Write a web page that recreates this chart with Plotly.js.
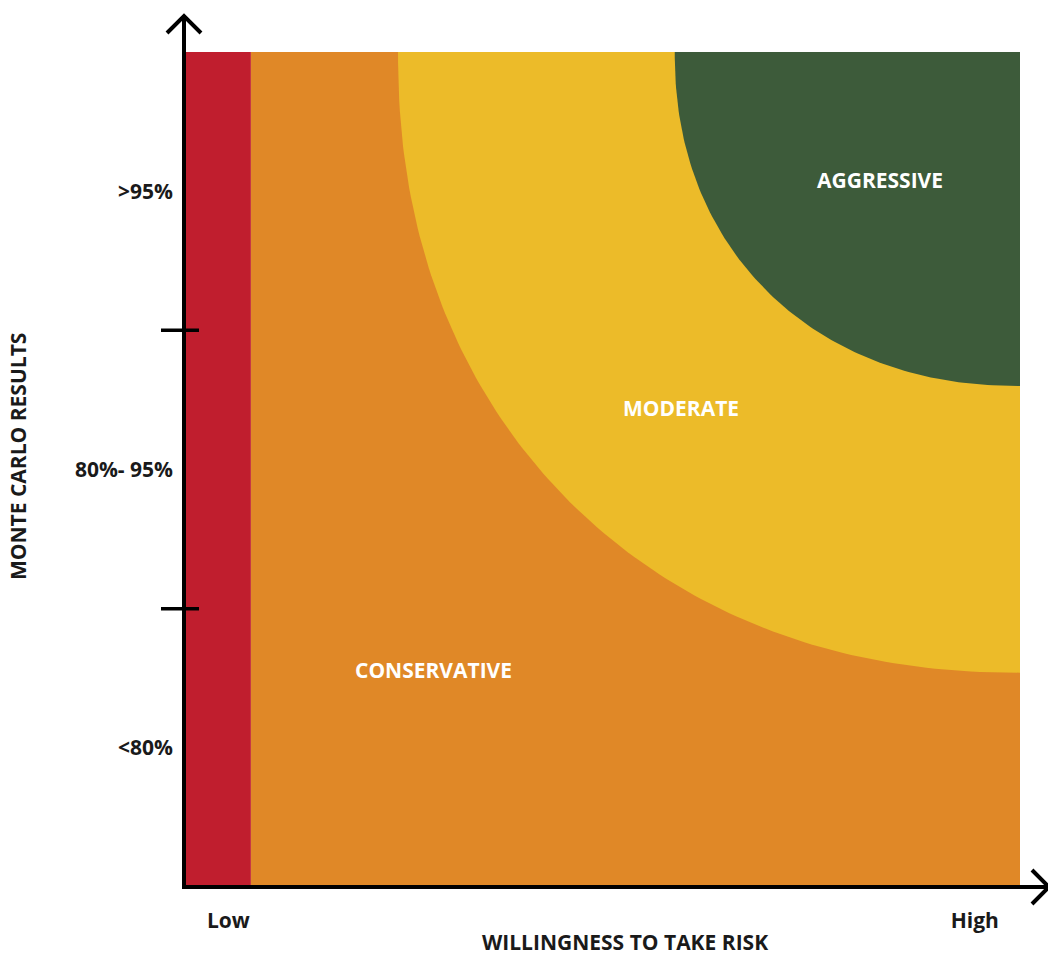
<!DOCTYPE html>
<html>
<head>
<meta charset="utf-8">
<script src="https://cdn.plot.ly/plotly-3.0.1.min.js"></script>
<style>
  html, body { margin: 0; padding: 0; background: #ffffff; }
  #chart { width: 1048px; height: 956px; }
</style>
</head>
<body>
<div id="chart"></div>
<script>
// Risk-profile zones: willingness to take risk (x, 0-100) vs Monte Carlo band (y, 0-3)
const xTickVals = [5.3, 94.6];
const xTickText = ['Low', 'High'];
const yTickVals = [0.5, 1.5, 2.5];
const yTickText = ['<80%', '80%- 95%', '>95%'];
const bandEdges = [1, 2];

const zoneNames = ['Unsuitable', 'Conservative', 'Moderate', 'Aggressive'];
const zoneColors = ['#C01E2E', '#E08827', '#ECBB29', '#3D5B3A'];
const lowRiskLimit = 8;                 // edge of the red strip
const moderateRadiusX = 74.4;           // reach of the moderate zone from the top-right corner
const moderateRadiusY = 2.23;
const aggressiveRadiusX = 41.3;         // reach of the aggressive zone from the top-right corner
const aggressiveRadiusY = 1.20;
const arcExponent = 2.15;

const zoneLabels = ['CONSERVATIVE', 'MODERATE', 'AGGRESSIVE'];
const zoneLabelX = [29.9, 59.4, 83.3];
const zoneLabelY = [0.78, 1.72, 2.54];

const X_MAX = 100, Y_MAX = 3;

// Quarter super-ellipse anchored at the top-right corner of the grid
function cornerZone(rx, ry) {
  const xs = [X_MAX], ys = [Y_MAX];
  const steps = 120;
  for (let i = 0; i <= steps; i++) {
    const t = (Math.PI / 2) * i / steps;
    const c = Math.cos(t), s = Math.sin(t);
    const dx = rx * Math.pow(c, 2 / arcExponent);
    const dy = ry * Math.pow(s, 2 / arcExponent);
    xs.push(X_MAX - dx);
    ys.push(Y_MAX - dy);
  }
  xs.push(X_MAX); ys.push(Y_MAX);
  return { xs, ys };
}

function filled(name, xs, ys, color) {
  return {
    type: 'scatter', mode: 'lines', name: name,
    x: xs, y: ys, fill: 'toself', fillcolor: color,
    line: { width: 0, color: color }, hoverinfo: 'skip', showlegend: false
  };
}

const moderate = cornerZone(moderateRadiusX, moderateRadiusY);
const aggressive = cornerZone(aggressiveRadiusX, aggressiveRadiusY);

const traces = [
  filled(zoneNames[1], [lowRiskLimit, X_MAX, X_MAX, lowRiskLimit, lowRiskLimit], [0, 0, Y_MAX, Y_MAX, 0], zoneColors[1]),
  filled(zoneNames[0], [0, lowRiskLimit, lowRiskLimit, 0, 0], [0, 0, Y_MAX, Y_MAX, 0], zoneColors[0]),
  filled(zoneNames[2], moderate.xs, moderate.ys, zoneColors[2]),
  filled(zoneNames[3], aggressive.xs, aggressive.ys, zoneColors[3])
];

// Page geometry
const L = 184, T = 52, PW = 836, PH = 835;
const px = v => (v - L) / PW;          // pixel column -> paper x
const py = v => (T + PH - v) / PH;     // pixel row -> paper y

const axisLine = { color: '#000000', width: 4 };
const shapes = [
  // y axis with arrow head
  { type: 'line', xref: 'paper', yref: 'paper', x0: 0, x1: 0, y0: py(889), y1: py(15), line: axisLine, layer: 'above' },
  { type: 'path', xref: 'paper', yref: 'paper',
    path: `M ${px(167)} ${py(33)} L ${px(184)} ${py(16)} L ${px(201)} ${py(33)}`,
    line: axisLine, layer: 'above' },
  // x axis with arrow head
  { type: 'line', xref: 'paper', yref: 'paper', x0: px(182), x1: px(1047), y0: 0, y1: 0, line: axisLine, layer: 'above' },
  { type: 'path', xref: 'paper', yref: 'paper',
    path: `M ${px(1032)} ${py(870)} L ${px(1049)} ${py(887)} L ${px(1032)} ${py(904)}`,
    line: axisLine, layer: 'above' }
];
// band separators on the y axis
bandEdges.forEach(v => {
  shapes.push({ type: 'line', xref: 'paper', yref: 'y', x0: px(161), x1: px(199), y0: v, y1: v,
    line: { color: '#000000', width: 3.5 }, layer: 'above' });
});

const textFont = 'Open Sans, Lato, sans-serif';
const annotations = zoneLabels.map((t, i) => ({
  text: t, x: zoneLabelX[i], y: zoneLabelY[i], xref: 'x', yref: 'y',
  xanchor: 'center', yanchor: 'middle',
  showarrow: false, font: { family: textFont, size: 21, color: '#ffffff', weight: 700 }
}));
annotations.push({
  text: 'WILLINGNESS TO TAKE RISK', xref: 'paper', yref: 'paper',
  x: px(625), y: py(942), xanchor: 'center', yanchor: 'middle', borderpad: 0, showarrow: false,
  font: { family: textFont, size: 21, color: '#1a1a1a', weight: 700 }
});
annotations.push({
  text: 'MONTE CARLO RESULTS', xref: 'paper', yref: 'paper',
  x: px(18), y: py(457), xanchor: 'center', yanchor: 'middle', textangle: -90, borderpad: 0, showarrow: false,
  font: { family: textFont, size: 21, color: '#1a1a1a', weight: 700 }
});

const layout = {
  width: 1048, height: 956,
  margin: { l: L, r: 1048 - L - PW, t: T, b: 956 - T - PH, pad: 0 },
  paper_bgcolor: '#ffffff', plot_bgcolor: '#ffffff',
  showlegend: false,
  xaxis: {
    range: [0, X_MAX], showgrid: false, zeroline: false, showline: false,
    tickvals: xTickVals, ticktext: xTickText, ticks: '',
    ticklabelstandoff: 19,
    tickfont: { family: textFont, size: 21, color: '#1a1a1a', weight: 700 },
    fixedrange: true
  },
  yaxis: {
    range: [0, Y_MAX], showgrid: false, zeroline: false, showline: false,
    tickvals: yTickVals, ticktext: yTickText, ticks: '',
    ticklabelstandoff: 10,
    tickfont: { family: textFont, size: 21, color: '#1a1a1a', weight: 700 },
    fixedrange: true
  },
  shapes: shapes,
  annotations: annotations,
  hovermode: false
};

Plotly.newPlot('chart', traces, layout, { displayModeBar: false, staticPlot: true });
</script>
</body>
</html>
